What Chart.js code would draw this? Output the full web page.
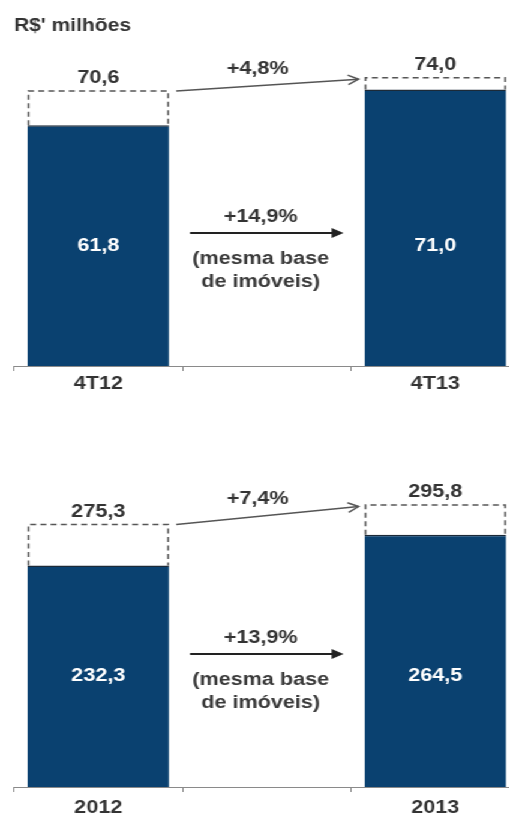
<!DOCTYPE html>
<html>
<head>
<meta charset="utf-8">
<script src="https://cdn.jsdelivr.net/npm/chart.js@4/dist/chart.umd.min.js"></script>
<style>
  html, body { margin: 0; padding: 0; background: #fff; overflow: hidden; }
  #stage { width: 433px; transform: scaleX(1.2); transform-origin: 0 0; }
  .panel { position: relative; width: 433px; }
  #p1 { height: 410px; }
  #p2 { height: 414px; }
</style>
</head>
<body>
<div id="stage">
  <div class="panel" id="p1"><canvas id="c1"></canvas></div>
  <div class="panel" id="p2"><canvas id="c2"></canvas></div>
</div>
<script>
// ---- data ----
const unitTitle = "R$' milhões";
const quarterCategories = ['4T12', '', '4T13'];
const quarterTotal = [70.6, null, 74.0];
const quarterSameBase = [61.8, null, 71.0];
const quarterGrowth = '+4,8%';
const quarterSameBaseGrowth = '+14,9%';

const yearCategories = ['2012', '', '2013'];
const yearTotal = [275.3, null, 295.8];
const yearSameBase = [232.3, null, 264.5];
const yearGrowth = '+7,4%';
const yearSameBaseGrowth = '+13,9%';

const sameBaseNote = ['(mesma base', 'de imóveis)'];

// ---- styles ----
const FONT = '"Liberation Sans", Arial, sans-serif';
const NAVY = '#0a4170';
const TEXT = '#333333';
const LINE = '#555555';

function fmt(v) { return v.toFixed(1).replace('.', ','); }

function arrowHeadOpen(ctx, x1, y1, x2, y2, len) {
  const a = Math.atan2(y2 - y1, x2 - x1);
  ctx.beginPath();
  ctx.moveTo(x2 - len * Math.cos(a - 0.5), y2 - len * Math.sin(a - 0.5));
  ctx.lineTo(x2, y2);
  ctx.lineTo(x2 - len * Math.cos(a + 0.5), y2 - len * Math.sin(a + 0.5));
  ctx.stroke();
}

const annotate = {
  id: 'annotate',
  beforeDatasetsDraw(chart) {
    const ctx = chart.ctx;
    const metaT = chart.getDatasetMeta(1);
    const metaB = chart.getDatasetMeta(0);
    ctx.save();
    ctx.strokeStyle = LINE;
    ctx.lineWidth = 1.5;
    ctx.setLineDash([5, 3.5]);
    metaT.data.forEach((el, i) => {
      if (chart.data.datasets[1].data[i] == null) return;
      const p = el.getProps(['x', 'y', 'width'], true);
      const b = metaB.data[i].getProps(['y'], true);
      const xl = p.x - p.width / 2 + 0.75, xr = p.x + p.width / 2 - 0.75;
      ctx.beginPath();
      ctx.moveTo(xl, b.y);
      ctx.lineTo(xl, p.y);
      ctx.lineTo(xr, p.y);
      ctx.lineTo(xr, b.y);
      ctx.stroke();
    });
    ctx.restore();
  },
  afterDatasetsDraw(chart, args, opts) {
    const ctx = chart.ctx;
    const yS = chart.scales.y;
    const xS = chart.scales.x;
    const area = chart.chartArea;
    const totals = chart.data.datasets[1].data;
    const bases = chart.data.datasets[0].data;
    const mTot = chart.getDatasetMeta(1).data;
    ctx.save();
    ctx.font = 'bold 18px ' + FONT;
    ctx.textAlign = 'center';
    ctx.textBaseline = 'middle';
    // total labels above dashed boxes
    ctx.fillStyle = TEXT;
    totals.forEach((v, i) => {
      if (v == null) return;
      ctx.fillText(fmt(v), xS.getPixelForValue(i), yS.getPixelForValue(v) - 12.5);
    });
    // same-base labels inside navy bars
    ctx.fillStyle = '#ffffff';
    const labelY = yS.getPixelForValue(bases[0] / 2);
    bases.forEach((v, i) => {
      if (v == null) return;
      ctx.fillText(fmt(v), xS.getPixelForValue(i), labelY);
    });
    // growth arrow between totals
    const l = mTot[0].getProps(['x', 'y', 'width'], true);
    const r = mTot[2].getProps(['x', 'y', 'width'], true);
    const x1 = l.x + l.width / 2 + 6, y1 = l.y;
    const x2 = r.x - r.width / 2 - 5, y2 = r.y + 1.5;
    ctx.strokeStyle = LINE;
    ctx.lineWidth = 1.5;
    ctx.beginPath(); ctx.moveTo(x1, y1); ctx.lineTo(x2, y2); ctx.stroke();
    arrowHeadOpen(ctx, x1, y1, x2, y2, 10);
    ctx.fillStyle = TEXT;
    ctx.fillText(opts.growth, (x1 + x2) / 2 - 8, (y1 + y2) / 2 - 16);
    // same-base arrow in the middle
    const cx = xS.getPixelForValue(1);
    const ay = area.bottom - 133;
    const half = 64;
    ctx.strokeStyle = '#222222';
    ctx.lineWidth = 2;
    ctx.beginPath(); ctx.moveTo(cx - half, ay); ctx.lineTo(cx + half - 8, ay); ctx.stroke();
    ctx.fillStyle = '#222222';
    ctx.beginPath();
    ctx.moveTo(cx + half, ay);
    ctx.lineTo(cx + half - 10, ay - 5);
    ctx.lineTo(cx + half - 10, ay + 5);
    ctx.closePath(); ctx.fill();
    ctx.fillStyle = TEXT;
    ctx.fillText(opts.sameBaseGrowth, cx - 5, area.bottom - 149);
    ctx.fillStyle = '#3a3a3a';
    ctx.fillText(sameBaseNote[0], cx - 5, area.bottom - 107);
    ctx.fillText(sameBaseNote[1], cx - 5, area.bottom - 84);
    ctx.restore();
  }
};

function makeChart(id, cats, base, total, yMax, growth, sbGrowth, title, padding, tickPad) {
  return new Chart(document.getElementById(id), {
    type: 'bar',
    data: {
      labels: cats,
      datasets: [
        { data: base, backgroundColor: NAVY, borderColor: '#1c2a38',
          borderWidth: { top: 1.5, left: 0, right: 0, bottom: 0 },
          grouped: false, order: 0, barPercentage: 0.84, categoryPercentage: 1 },
        { data: total, backgroundColor: 'rgba(0,0,0,0)', borderWidth: 0,
          grouped: false, order: 1, barPercentage: 0.84, categoryPercentage: 1 }
      ]
    },
    options: {
      responsive: true,
      maintainAspectRatio: false,
      animation: false,
      layout: { padding: padding },
      plugins: {
        legend: { display: false },
        tooltip: { enabled: false },
        title: title ? {
          display: true, text: title, align: 'start', color: TEXT,
          font: { family: FONT, size: 17.5, weight: 'bold' },
          padding: { top: 16, bottom: 7 }
        } : { display: false },
        annotate: { growth: growth, sameBaseGrowth: sbGrowth }
      },
      scales: {
        x: {
          grid: { display: true, drawOnChartArea: false, drawTicks: true, tickLength: 5, color: '#8a8a8a', lineWidth: 1 },
          border: { display: true, color: '#8a8a8a', width: 1 },
          ticks: { color: TEXT, padding: tickPad, font: { family: FONT, size: 18, weight: 'bold', lineHeight: 1 } }
        },
        y: { display: false, min: 0, max: yMax }
      }
    },
    plugins: [annotate]
  });
}

makeChart('c1', quarterCategories, quarterSameBase, quarterTotal, 82.65,
  quarterGrowth, quarterSameBaseGrowth, unitTitle, { left: 11.67, right: 0, top: 0, bottom: 13 }, 4);
makeChart('c2', yearCategories, yearSameBase, yearTotal, 353.5,
  yearGrowth, yearSameBaseGrowth, null, { left: 11.67, right: 0, top: 40, bottom: 0 }, 7);
</script>
</body>
</html>
